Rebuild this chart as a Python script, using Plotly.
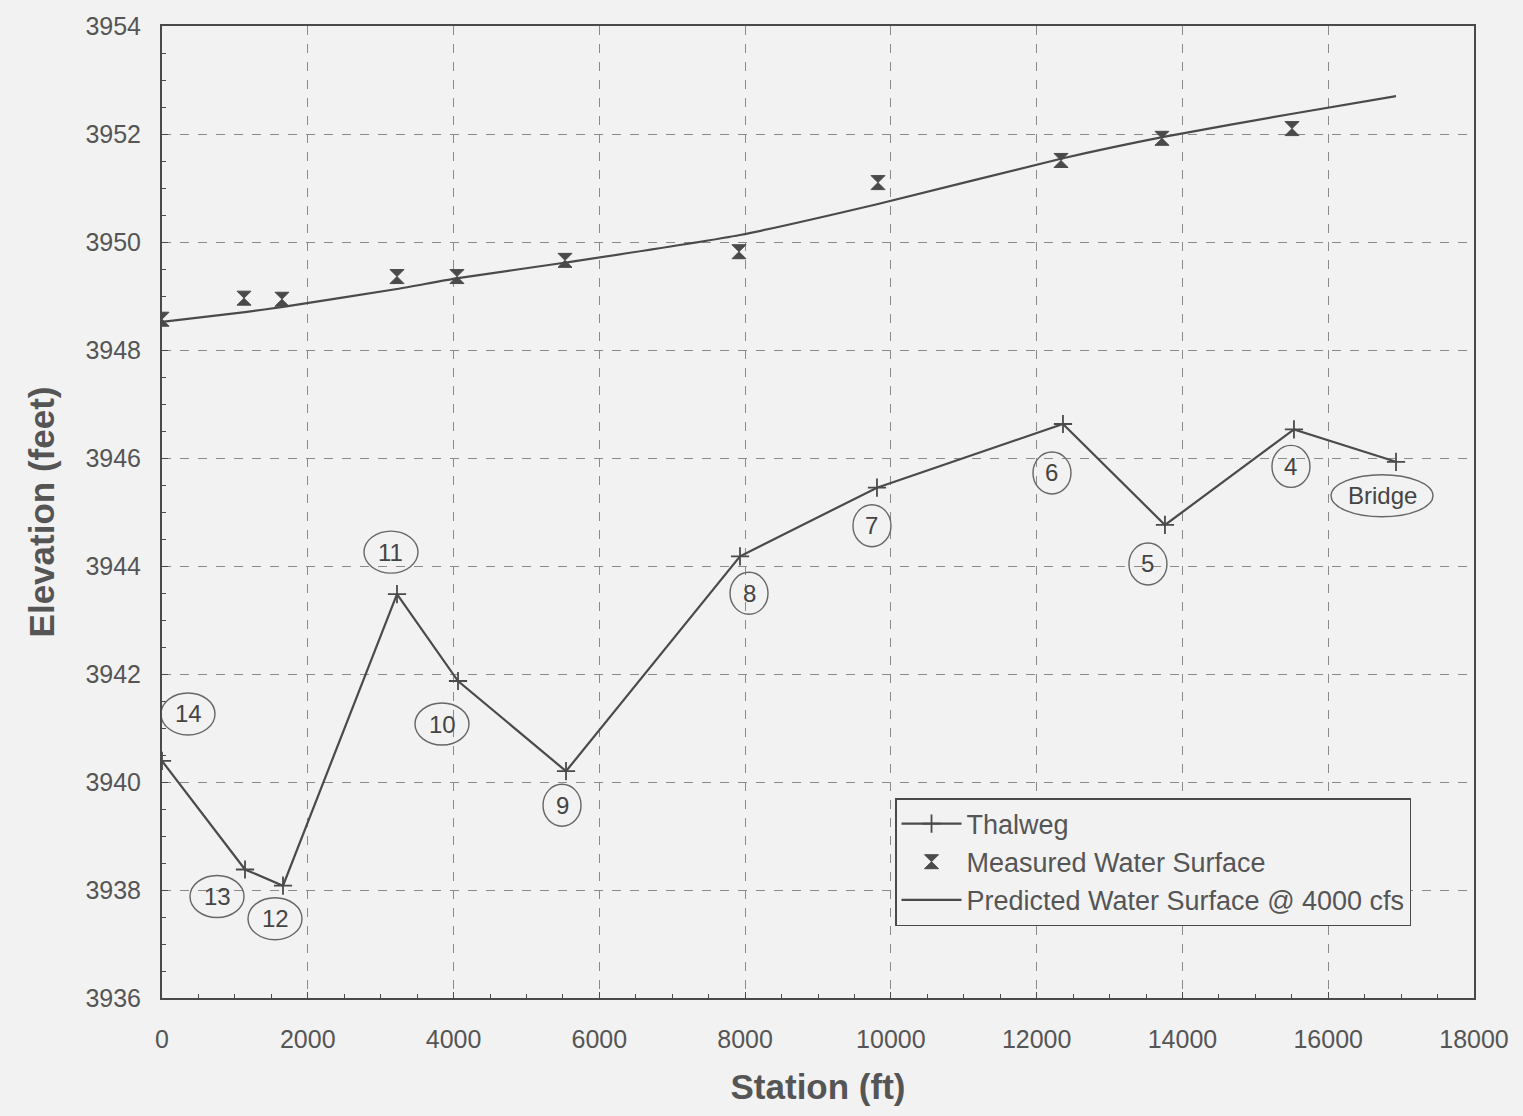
import plotly.graph_objects as go

# Cross-section stations along the reach (ft) and their labels
station = [0, 1139, 1660, 3224, 4061, 5543, 7930, 9809, 12361, 13760, 15530, 16930]
section_label = ["14", "13", "12", "11", "10", "9", "8", "7", "6", "5", "4", "Bridge"]

# Thalweg (channel bottom) elevation at each station (ft)
thalweg = [3940.39, 3938.38, 3938.08, 3943.48, 3941.87, 3940.20,
           3944.18, 3945.45, 3946.63, 3944.76, 3946.53, 3945.93]

# Measured water surface elevations (ft)
measured_station = [0, 1125, 1646, 3224, 4047, 5529, 7916, 9823, 12334, 13719, 15503]
measured_ws = [3948.57, 3948.96, 3948.94, 3949.36, 3949.36, 3949.66,
               3949.82, 3951.10, 3951.51, 3951.92, 3952.10]

# Predicted water surface @ 4000 cfs (ft)
predicted_ws = [3948.52, 3948.70, 3948.80, 3949.13, 3949.33, 3949.62,
                3950.13, 3950.70, 3951.55, 3951.95, 3952.38, 3952.70]

INK = "#4a4a4a"
BG = "#f2f2f2"
FONT = "Liberation Sans, Arial, sans-serif"

# Label placement: pixel offset of each oval from its thalweg point
label_offset = [(26, -47), (-28, 27), (-8, 33), (-6, -42), (-16, 43), (-4, 34),
                (9, 37), (-5, 38), (-11, 49), (-17, 39), (-3, 37), (-14, 34)]

fig = go.Figure()

fig.add_trace(go.Scatter(
    x=station, y=thalweg, name="Thalweg", mode="lines+markers",
    line=dict(color=INK, width=2.2),
    marker=dict(symbol="cross-thin", size=13, line=dict(color=INK, width=1.8)),
    legendgroup="a",
))
fig.add_trace(go.Scatter(
    x=measured_station, y=measured_ws, name="Measured Water Surface", mode="markers",
    marker=dict(symbol="hourglass", size=14, color=INK, line=dict(color=INK, width=1)),
    legendgroup="b",
))
fig.add_trace(go.Scatter(
    x=station, y=predicted_ws, name="Predicted Water Surface @ 4000 cfs", mode="lines",
    line=dict(color=INK, width=2.2, shape="spline", smoothing=0.6),
    legendgroup="c",
))

annotations = []
shapes = []
for sx, sy, txt, (dx, dy) in zip(station, thalweg, section_label, label_offset):
    w = 102 if len(txt) > 2 else (54 if len(txt) == 2 else 38)
    h = 42
    annotations.append(dict(
        x=sx, y=sy, xref="x", yref="y", text=txt, showarrow=False,
        xshift=dx, yshift=-dy, font=dict(family=FONT, size=24, color="#444444"),
    ))
    shapes.append(dict(
        type="circle", xref="x", yref="y", xsizemode="pixel", ysizemode="pixel",
        xanchor=sx, yanchor=sy,
        x0=dx - w / 2, x1=dx + w / 2, y0=-dy - h / 2, y1=-dy + h / 2,
        line=dict(color="#666666", width=1.4), layer="above",
    ))

axis_common = dict(
    showline=True, linecolor=INK, linewidth=2, mirror=True,
    showgrid=True, gridcolor="#8a8a8a", gridwidth=1, griddash="dash",
    zeroline=False, ticks="inside", ticklen=6, tickcolor=INK,
    tickfont=dict(family=FONT, size=25, color="#555555"),
)

fig.update_layout(
    width=1523, height=1116,
    margin=dict(l=162, r=49, t=21, b=118),
    paper_bgcolor=BG, plot_bgcolor=BG,
    font=dict(family=FONT, color="#555555"),
    showlegend=True,
    legend=dict(
        x=0.5587, y=0.2057, xanchor="left", yanchor="top",
        bgcolor=BG, bordercolor=INK, borderwidth=1.5,
        font=dict(family=FONT, size=27, color="#555555"),
        traceorder="grouped", tracegroupgap=0, itemwidth=60,
    ),
    xaxis=dict(
        range=[0, 18000], tick0=0, dtick=2000, tickformat="d",
        minor=dict(dtick=500, ticks="inside", ticklen=4, tickcolor=INK, showgrid=False),
        ticklabelstandoff=18,
        title=dict(text="<b>Station (ft)</b>", font=dict(family=FONT, size=35, color="#555555"), standoff=22),
        **axis_common,
    ),
    yaxis=dict(
        range=[3936, 3954], tick0=3936, dtick=2, tickformat="d",
        minor=dict(dtick=0.5, ticks="inside", ticklen=4, tickcolor=INK, showgrid=False),
        ticklabelstandoff=14,
        title=dict(text="<b>Elevation (feet)</b>", font=dict(family=FONT, size=35, color="#555555"), standoff=20),
        **axis_common,
    ),
    annotations=annotations,
    shapes=shapes,
)

fig.write_html("out.html")
